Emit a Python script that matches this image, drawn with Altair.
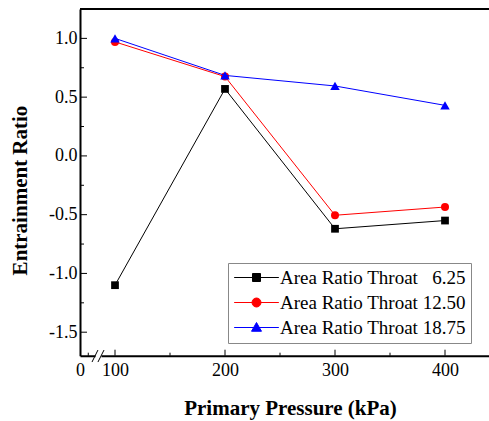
import altair as alt
import pandas as pd

# ---------------- data ----------------
pressure = [100, 200, 300, 400]
ratio_625 = [-1.10, 0.57, -0.62, -0.55]
ratio_1250 = [0.97, 0.675, -0.505, -0.435]
ratio_1875 = [1.00, 0.685, 0.595, 0.43]
series_names = ["Area Ratio Throat \u20076.25", "Area Ratio Throat 12.50", "Area Ratio Throat 18.75"]
series_colors = ["#000000", "#ff0000", "#0000ff"]
series_shapes = ["square", "circle", "triangle-up"]
series_sizes = [60, 64, 90]

x_major = [100, 200, 300, 400]
x_minor = [75.7, 150, 250, 350]
y_major = [-1.5, -1.0, -0.5, 0.0, 0.5, 1.0]
y_minor = [-1.25, -0.75, -0.25, 0.25, 0.75]
X_ZERO = 68.18      # where the "0" label sits, left of the axis break
X_MAX = 440
Y_MIN, Y_MAX = -1.7, 1.25

rows = []
for name, vals in zip(series_names, [ratio_625, ratio_1250, ratio_1875]):
    for p, v in zip(pressure, vals):
        rows.append({"pressure": p, "ratio": v, "series": name})
df = pd.DataFrame(rows)

W, H = 409, 346.7
FONT = "Liberation Serif, 'Times New Roman', Times, 'DejaVu Serif', serif"

xs = alt.Scale(domain=[X_ZERO, X_MAX], nice=False, zero=False)
ys = alt.Scale(domain=[Y_MIN, Y_MAX], nice=False, zero=False)

x_axis = alt.Axis(
    values=[X_ZERO] + x_major,
    labelExpr="datum.value < 90 ? '0' : toString(round(datum.value))",
    labelPadding=6,
    title="Primary Pressure (kPa)",
    titleX=210, titleY=53, titleAlign="center", titleBaseline="middle",
)
y_axis = alt.Axis(
    values=y_major,
    labelExpr="replace(format(datum.value, '.1f'), '\u2212', '-')",
    labelPadding=3,
    title="Entrainment Ratio",
    titleX=-60, titleY=181, titleAngle=270, titleAlign="center", titleBaseline="middle",
)

X = lambda f: alt.X(f, scale=xs, axis=x_axis)
Y = lambda f: alt.Y(f, scale=ys, axis=y_axis)

# one line + one marker layer per series (fixed colours, no legend of their own)
series_layers = []
for n, s, c, sz in zip(series_names, series_shapes, series_colors, series_sizes):
    base = alt.Chart(df).transform_filter(alt.datum.series == n)
    series_layers.append(
        base.mark_line(strokeWidth=1, color=c).encode(x=X("pressure:Q"), y=Y("ratio:Q"))
    )
    series_layers.append(
        base.mark_point(filled=True, shape=s, size=sz, color=c, opacity=1, strokeWidth=0)
        .encode(x=X("pressure:Q"), y=Y("ratio:Q"))
    )

# inward ticks
xt_major = alt.Chart(pd.DataFrame({"v": x_major})).mark_rule(color="black", strokeWidth=1).encode(
    x=X("v:Q"), y=alt.value(H), y2=alt.value(H - 6))
xt_minor = alt.Chart(pd.DataFrame({"v": x_minor})).mark_rule(color="black", strokeWidth=1).encode(
    x=X("v:Q"), y=alt.value(H), y2=alt.value(H - 3))
yt_major = alt.Chart(pd.DataFrame({"v": y_major})).mark_rule(color="black", strokeWidth=1).encode(
    y=Y("v:Q"), x=alt.value(0), x2=alt.value(7))
yt_minor = alt.Chart(pd.DataFrame({"v": y_minor})).mark_rule(color="black", strokeWidth=1).encode(
    y=Y("v:Q"), x=alt.value(0), x2=alt.value(4))

# top frame line
top_line = alt.Chart(pd.DataFrame({"v": [0]})).mark_rule(color="black", strokeWidth=2).encode(
    x=alt.value(0), x2=alt.value(W), y=alt.value(0))

# axis break
break_gap = alt.Chart(pd.DataFrame({"a": [82.3], "b": [87.7], "c": [-1.68], "d": [-1.725]})).mark_rect(
    color="white").encode(x=X("a:Q"), x2="b:Q", y=Y("c:Q"), y2="d:Q")
break_marks = alt.Chart(pd.DataFrame({"a": [79.1, 84.5], "b": [84.5, 90.0],
                                      "c": [-1.754, -1.754], "d": [-1.652, -1.652]})).mark_rule(
    color="black", strokeWidth=1).encode(x=X("a:Q"), x2="b:Q", y=Y("c:Q"), y2="d:Q")

# legend (line + marker symbols); this layer's own marks are invisible
legend_paths = [
    "M-4.47,0H4.47M-0.8,-0.8H0.8V0.8H-0.8Z",
    "M-4.47,0H4.47M-0.9,0A0.9,0.9 0 1,0 0.9,0A0.9,0.9 0 1,0 -0.9,0Z",
    "M-4.47,0H4.47M0,-1L1,0.75H-1Z",
]
leg = alt.Legend(title=None, orient="none", legendX=148, legendY=254)
legend_layer = alt.Chart(df).mark_point(filled=True, opacity=0, size=100).encode(
    x=X("pressure:Q"), y=Y("ratio:Q"),
    fill=alt.Fill("series:N", scale=alt.Scale(domain=series_names, range=series_colors), legend=leg),
    stroke=alt.Stroke("series:N", scale=alt.Scale(domain=series_names, range=series_colors), legend=leg),
    shape=alt.Shape("series:N", scale=alt.Scale(domain=series_names, range=legend_paths), legend=leg),
)

chart = alt.layer(
    *series_layers, xt_major, xt_minor, yt_major, yt_minor, top_line,
    break_gap, break_marks, legend_layer,
).properties(
    width=W, height=H,
    padding={"left": 80, "top": 9, "right": 0, "bottom": 421 - 9 - H},
    autosize=alt.AutoSizeParams(type="none"),
    background="white",
).configure_view(stroke=None).configure_axis(
    tickSize=0, grid=False, domainColor="black", domainWidth=2,
    labelFont=FONT, labelFontSize=18, labelColor="black",
    labelFlush=False, labelOverlap=False,
    titleFont=FONT, titleFontSize=21, titleFontWeight="bold", titleColor="black",
).configure_legend(
    symbolSize=100, symbolStrokeWidth=1, symbolOffset=14, labelOffset=14,
    symbolOpacity=1,
    labelFont=FONT, labelFontSize=19, labelColor="black", labelLimit=400,
    strokeColor="#888888", fillColor="white", padding=5, rowPadding=5,
)

chart.save("out.html", embed_options={"renderer": "svg", "actions": False})
